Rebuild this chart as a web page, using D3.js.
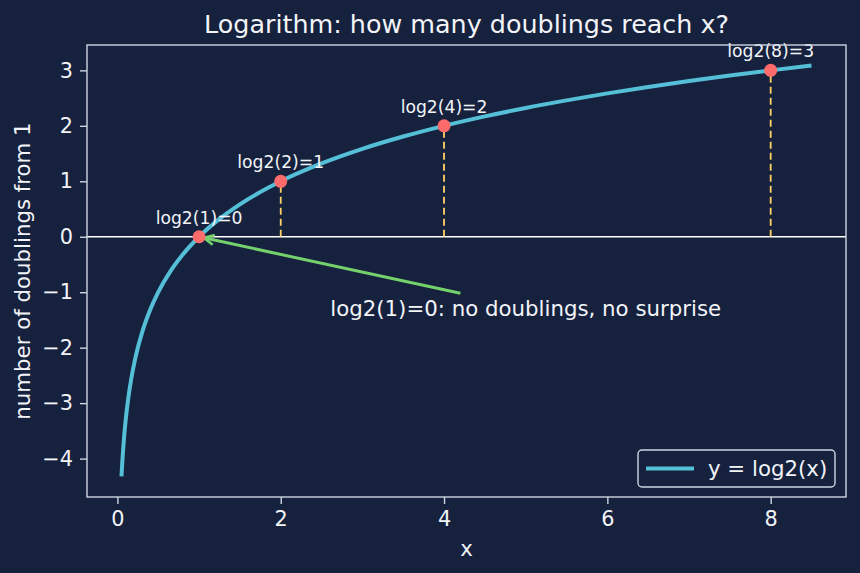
<!DOCTYPE html>
<html>
<head>
<meta charset="utf-8">
<script src="https://cdn.jsdelivr.net/npm/d3@7"></script>
<style>
  html, body { margin: 0; padding: 0; background: #16213e; }
  svg { display: block; font-family: "DejaVu Sans", sans-serif; }
</style>
</head>
<body>
<div id="chart"></div>
<script>
// curve samples
const curveX = [0.05, 0.06, 0.07, 0.08, 0.09, 0.1, 0.13, 0.17, 0.22, 0.3, 0.4, 0.5, 0.65, 0.8, 1, 1.25, 1.5, 2, 2.5, 3, 3.5, 4, 4.5, 5, 5.5, 6, 6.5, 7, 7.5, 8, 8.5]
const curveY = [-4.322, -4.059, -3.837, -3.644, -3.474, -3.322, -2.943, -2.556, -2.184, -1.737, -1.322, -1, -0.621, -0.322, 0, 0.322, 0.585, 1, 1.322, 1.585, 1.807, 2, 2.170, 2.322, 2.459, 2.585, 2.700, 2.807, 2.907, 3, 3.087]

// marked points
const markX = [1, 2, 4, 8]
const markY = [0, 1, 2, 3]
const markLabels = ["log2(1)=0", "log2(2)=1", "log2(4)=2", "log2(8)=3"]

const xTicks = [0, 2, 4, 6, 8]
const yTicks = [-4, -3, -2, -1, 0, 1, 2, 3]

const noteText = "log2(1)=0: no doublings, no surprise"
const noteAt = [5, -1.3]
const arrowFrom = [4.2, -1.02]
const arrowTo = [1, 0]

const width = 860
const height = 573
const margin = {top: 45, right: 14, bottom: 76, left: 87}

const bg = "#16213e"
const fg = "#f2f4f8"
const spine = "#cdd5e0"
const fs = "21.3px"

const svg = d3.select("#chart").append("svg")
    .attr("width", width)
    .attr("height", height)
    .style("background", bg)

// matplotlib style 5% padding around the data
function padded(vals){
    const [lo, hi] = d3.extent(vals)
    const m = (hi - lo) * 0.05
    return [lo - m, hi + m]
}

const x = d3.scaleLinear()
    .domain(padded(curveX))
    .range([margin.left, width - margin.right])
const y = d3.scaleLinear()
    .domain(padded(curveY))
    .range([height - margin.bottom, margin.top])

const x0 = margin.left, x1 = width - margin.right
const y0 = margin.top, y1 = height - margin.bottom

svg.append("rect")
    .attr("x", x0).attr("y", y0)
    .attr("width", x1 - x0).attr("height", y1 - y0)
    .attr("fill", bg)

const defs = svg.append("defs")
defs.append("clipPath").attr("id", "clip")
  .append("rect")
    .attr("x", x0).attr("y", y0)
    .attr("width", x1 - x0).attr("height", y1 - y0)
defs.append("marker")
    .attr("id", "head")
    .attr("viewBox", "0 0 12 12")
    .attr("refX", 11).attr("refY", 6)
    .attr("markerWidth", 12).attr("markerHeight", 12)
    .attr("markerUnits", "userSpaceOnUse")
    .attr("orient", "auto")
  .append("path")
    .attr("d", "M1,1 L11,6 L1,11")
    .attr("fill", "none")
    .attr("stroke", "#74d16c")
    .attr("stroke-width", 2.6)

const plot = svg.append("g").attr("clip-path", "url(#clip)")

// zero line
plot.append("line")
    .attr("x1", x0).attr("x2", x1)
    .attr("y1", y(0)).attr("y2", y(0))
    .attr("stroke", "#ffffff")
    .attr("stroke-width", 1.6)

// dashed drop lines
plot.selectAll(".drop")
  .data(markX)
  .join("line")
    .attr("class", "drop")
    .attr("x1", d => x(d)).attr("x2", d => x(d))
    .attr("y1", y(0))
    .attr("y2", (d, i) => y(markY[i]))
    .attr("stroke", "#ffd166")
    .attr("stroke-width", 1.8)
    .attr("stroke-dasharray", "7,4")

const line = d3.line()
    .x(d => x(d[0]))
    .y(d => y(d[1]))
    .curve(d3.curveMonotoneX)

plot.append("path")
    .datum(d3.zip(curveX, curveY))
    .attr("d", line)
    .attr("fill", "none")
    .attr("stroke", "#56bfd8")
    .attr("stroke-width", 4)
    .attr("stroke-linejoin", "round")

// arrow, shrunk a bit at the head like matplotlib does
const ax = x(arrowFrom[0]), ay = y(arrowFrom[1])
const bx = x(arrowTo[0]), by = y(arrowTo[1])
const len = Math.hypot(bx - ax, by - ay)
const shrink = 5
plot.append("line")
    .attr("x1", ax).attr("y1", ay)
    .attr("x2", bx - (bx - ax) / len * shrink)
    .attr("y2", by - (by - ay) / len * shrink)
    .attr("stroke", "#74d16c")
    .attr("stroke-width", 3)
    .attr("marker-end", "url(#head)")

plot.selectAll(".dot")
  .data(markX)
  .join("circle")
    .attr("class", "dot")
    .attr("cx", d => x(d))
    .attr("cy", (d, i) => y(markY[i]))
    .attr("r", 6.5)
    .attr("fill", "#ff6b6b")

svg.selectAll(".mark-label")
  .data(markLabels)
  .join("text")
    .attr("class", "mark-label")
    .attr("x", (d, i) => x(markX[i]))
    .attr("y", (d, i) => y(markY[i]) - 13)
    .attr("text-anchor", "middle")
    .attr("fill", fg)
    .style("font-size", "17.2px")
    .text(d => d)

svg.append("text")
    .attr("x", x(noteAt[0]))
    .attr("y", y(noteAt[1]))
    .attr("text-anchor", "middle")
    .attr("dominant-baseline", "central")
    .attr("fill", fg)
    .style("font-size", fs)
    .text(noteText)

// axes
const xAxis = svg.append("g")
    .attr("transform", `translate(0,${y1})`)
    .call(d3.axisBottom(x).tickValues(xTicks).tickSize(7).tickPadding(7).tickFormat(d3.format("d")))
const yAxis = svg.append("g")
    .attr("transform", `translate(${x0},0)`)
    .call(d3.axisLeft(y).tickValues(yTicks).tickSize(7).tickPadding(7).tickFormat(d3.format("d")))

;[xAxis, yAxis].forEach(g => {
    g.select(".domain").remove()
    g.selectAll(".tick line").attr("stroke", spine).attr("stroke-width", 1.4)
    g.selectAll(".tick text")
        .attr("fill", fg)
        .style("font-size", "20.8px")
        .style("font-family", "DejaVu Sans, sans-serif")
})

svg.append("rect")
    .attr("x", x0).attr("y", y0)
    .attr("width", x1 - x0).attr("height", y1 - y0)
    .attr("fill", "none")
    .attr("stroke", spine)
    .attr("stroke-width", 1.4)

svg.append("text")
    .attr("x", (x0 + x1) / 2)
    .attr("y", 33)
    .attr("text-anchor", "middle")
    .attr("fill", fg)
    .style("font-size", "25.4px")
    .text("Logarithm: how many doublings reach x?")

svg.append("text")
    .attr("x", (x0 + x1) / 2)
    .attr("y", 556)
    .attr("text-anchor", "middle")
    .attr("fill", fg)
    .style("font-size", fs)
    .text("x")

svg.append("text")
    .attr("transform", `translate(30,${(y0 + y1) / 2}) rotate(-90)`)
    .attr("text-anchor", "middle")
    .attr("fill", fg)
    .style("font-size", fs)
    .text("number of doublings from 1")

// legend, lower right
const lw = 197, lh = 37
const lx = x1 - 11 - lw, ly = y1 - 10 - lh
const legend = svg.append("g").attr("transform", `translate(${lx},${ly})`)
legend.append("rect")
    .attr("width", lw).attr("height", lh)
    .attr("rx", 4)
    .attr("fill", bg)
    .attr("stroke", spine)
    .attr("stroke-width", 1.4)
legend.append("line")
    .attr("x1", 8).attr("x2", 56)
    .attr("y1", lh / 2).attr("y2", lh / 2)
    .attr("stroke", "#56bfd8")
    .attr("stroke-width", 4)
legend.append("text")
    .attr("x", 70)
    .attr("y", lh / 2)
    .attr("dominant-baseline", "central")
    .attr("fill", fg)
    .style("font-size", fs)
    .text("y = log2(x)")
</script>
</body>
</html>
